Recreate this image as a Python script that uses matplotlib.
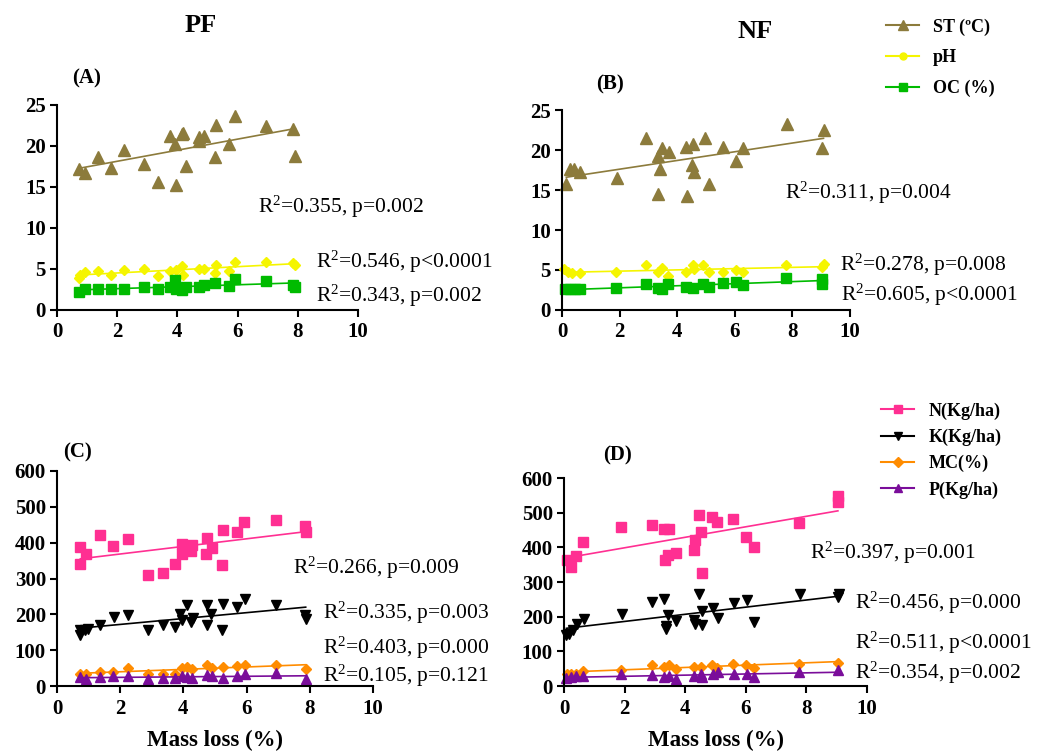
import numpy as np
import matplotlib.pyplot as plt
from matplotlib.lines import Line2D

plt.rcParams['font.family'] = ['Liberation Serif', 'DejaVu Serif']
plt.rcParams['mathtext.fontset'] = 'custom'
plt.rcParams['mathtext.rm'] = 'Liberation Serif'
plt.rcParams['mathtext.default'] = 'regular'

# ---- Panel A (PF): soil properties vs mass loss
a_st_x = [0.74, 0.94, 1.36, 1.79, 2.23, 2.90, 3.34, 3.76, 3.92, 3.94, 4.14, 4.20, 4.27,
          4.72, 4.72, 4.90, 5.27, 5.25, 5.70, 5.93, 6.93, 7.85, 7.92]
a_st_y = [17.2, 16.7, 18.6, 17.3, 19.5, 17.8, 15.6, 21.2, 20.3, 15.3, 21.5, 21.6, 17.6,
          21.1, 20.6, 21.2, 22.5, 18.7, 20.2, 23.6, 22.4, 22.1, 18.8]
a_ph_x = [0.74, 0.76, 0.94, 1.36, 1.79, 2.23, 2.90, 3.34, 3.76, 3.94, 4.14, 4.20, 4.72,
          4.90, 5.25, 5.27, 5.70, 5.93, 6.93, 7.85, 7.92]
a_ph_y = [3.9, 4.3, 4.6, 4.8, 4.3, 4.9, 5.0, 4.1, 4.7, 4.9, 5.4, 4.3, 5.0,
          5.0, 4.5, 5.5, 4.8, 5.9, 5.9, 5.7, 5.5]
a_oc_x = [0.74, 0.94, 1.36, 1.79, 2.23, 2.90, 3.34, 3.76, 3.92, 3.94, 4.14, 4.27, 4.72,
          4.90, 5.25, 5.70, 5.93, 6.93, 7.85, 7.92]
a_oc_y = [2.2, 2.6, 2.5, 2.5, 2.6, 2.8, 2.5, 2.8, 3.7, 2.6, 2.4, 2.8, 2.8,
          3.0, 3.3, 2.9, 3.8, 3.5, 3.0, 2.8]

# ---- Panel B (NF)
b_st_x = [0.15, 0.29, 0.40, 0.64, 1.91, 2.91, 3.33, 3.47, 3.41, 3.70, 3.33, 4.31, 4.34,
          4.54, 4.50, 4.57, 4.97, 5.09, 5.58, 6.05, 6.27, 7.80, 9.08, 9.04]
b_st_y = [15.7, 17.6, 17.6, 17.3, 16.5, 21.5, 19.2, 20.2, 17.6, 19.8, 14.5, 20.4, 14.2,
          20.7, 18.1, 17.3, 21.5, 15.7, 20.4, 18.6, 20.2, 23.2, 22.5, 20.3]
b_ph_x = [0.06, 0.20, 0.35, 0.61, 1.87, 2.91, 3.33, 3.47, 3.68, 4.31, 4.54, 4.57, 4.91,
          5.09, 5.58, 6.05, 6.27, 7.77, 9.08, 9.04]
b_ph_y = [5.1, 4.8, 4.6, 4.6, 4.8, 5.6, 4.7, 5.2, 4.2, 4.7, 5.6, 5.1, 5.6,
          4.7, 4.8, 5.0, 4.7, 5.6, 5.8, 5.4]
b_oc_x = [0.12, 0.29, 0.46, 0.64, 1.87, 2.91, 3.33, 3.47, 3.68, 4.31, 4.54, 4.91, 5.09,
          5.58, 6.05, 6.27, 7.77, 9.04, 9.04]
b_oc_y = [2.6, 2.6, 2.6, 2.6, 2.8, 3.25, 2.7, 2.6, 3.25, 2.9, 2.8, 3.25, 2.9,
          3.4, 3.5, 3.1, 4.0, 3.9, 3.3]

# ---- Panel C (PF): nutrients vs mass loss
c_n_x = [0.74, 0.74, 0.93, 1.35, 1.76, 2.26, 2.89, 3.34, 3.74, 3.95, 3.95, 4.10, 4.26,
         4.23, 4.74, 4.72, 4.89, 5.24, 5.21, 5.71, 5.93, 6.92, 7.84, 7.87]
c_n_y = [388, 341, 369, 422, 390, 409, 309, 316, 341, 395, 369, 379, 393,
         376, 414, 369, 385, 436, 337, 430, 458, 462, 446, 430]
c_k_x = [0.74, 0.74, 0.89, 0.97, 1.37, 1.79, 2.26, 2.89, 3.34, 3.74, 3.89, 3.95, 4.10,
         4.24, 4.29, 4.76, 4.74, 4.86, 5.26, 5.23, 5.71, 5.95, 6.93, 7.84, 7.87]
c_k_y = [155, 141, 155, 160, 169, 193, 197, 155, 169, 165, 202, 183, 225,
         179, 190, 225, 169, 202, 230, 155, 220, 242, 225, 199, 188]
c_mc_x = [0.74, 0.93, 1.35, 1.76, 2.26, 2.89, 3.34, 3.74, 3.95, 4.10, 4.26, 4.76, 4.89,
          5.26, 5.71, 5.95, 6.93, 7.87]
c_mc_y = [34, 34, 39, 39, 50, 34, 34, 34, 50, 53, 48, 58, 51,
          53, 56, 58, 58, 48]
c_p_x = [0.74, 0.93, 1.35, 1.76, 2.26, 2.89, 3.34, 3.74, 3.95, 4.10, 4.26, 4.76, 4.89,
         5.26, 5.71, 5.95, 6.93, 7.87]
c_p_y = [25, 20, 25, 27, 27, 20, 22, 22, 27, 25, 23, 30, 27,
         23, 27, 34, 36, 20]

# ---- Panel D (NF)
d_n_x = [0.10, 0.24, 0.41, 0.63, 1.87, 2.89, 3.31, 3.47, 3.33, 3.42, 3.69, 4.29, 4.32,
         4.46, 4.52, 4.57, 4.90, 5.06, 5.59, 6.01, 6.27, 7.77, 9.04, 9.04]
d_n_y = [364, 343, 374, 415, 460, 463, 452, 452, 364, 377, 385, 391, 420,
         492, 444, 327, 487, 473, 481, 430, 401, 471, 547, 531]
d_k_x = [0.08, 0.16, 0.30, 0.43, 0.65, 1.90, 2.90, 3.31, 3.36, 3.44, 3.36, 3.68, 4.29,
         4.32, 4.46, 4.54, 4.57, 4.93, 5.09, 5.61, 6.03, 6.28, 7.79, 9.06, 9.03]
d_k_y = [146, 151, 161, 178, 194, 209, 242, 250, 172, 206, 165, 187, 191,
         180, 266, 215, 175, 226, 197, 239, 247, 185, 264, 264, 257]
d_mc_x = [0.10, 0.24, 0.41, 0.63, 1.87, 2.89, 3.31, 3.47, 3.68, 4.29, 4.52, 4.90, 5.06,
          5.59, 6.01, 6.27, 7.77, 9.04]
d_mc_y = [36, 36, 36, 43, 47, 60, 55, 60, 50, 55, 55, 60, 53,
          64, 62, 53, 64, 67]
d_p_x = [0.08, 0.24, 0.41, 0.63, 1.87, 2.89, 3.31, 3.47, 3.68, 4.29, 4.52, 4.57, 4.93,
         5.09, 5.61, 6.03, 6.28, 7.77, 9.04]
d_p_y = [24, 26, 28, 28, 34, 31, 26, 28, 21, 28, 36, 26, 36,
         40, 36, 34, 26, 40, 45]

# series labels and stats text
top_labels = ['ST (\u00baC)', 'pH', 'OC (%)']
bottom_labels = ['N(Kg/ha)', 'K(Kg/ha)', 'MC(%)', 'P(Kg/ha)']
a_stats = ['R$^2$=0.355, p=0.002', 'R$^2$=0.546, p<0.0001', 'R$^2$=0.343, p=0.002']
b_stats = ['R$^2$=0.311, p=0.004', 'R$^2$=0.278, p=0.008', 'R$^2$=0.605, p<0.0001']
c_stats = ['R$^2$=0.266, p=0.009', 'R$^2$=0.335, p=0.003', 'R$^2$=0.403, p=0.000', 'R$^2$=0.105, p=0.121']
d_stats = ['R$^2$=0.397, p=0.001', 'R$^2$=0.456, p=0.000', 'R$^2$=0.511, p<0.0001', 'R$^2$=0.354, p=0.002']

# colours
st_col, ph_col, oc_col = '#8c7b3c', '#f5f500', '#00bb00'
n_col, k_col, mc_col, p_col = '#ff2f92', '#000000', '#ff8c00', '#7a0d9a'

W, H = 1051, 751
fig = plt.figure(figsize=(W / 100, H / 100), dpi=100)


def add_ax(l, t, r, b):
    # axes from a pixel box
    return fig.add_axes([l / W, 1 - b / H, (r - l) / W, (b - t) / H])


def scatter_fit(ax, x, y, col, marker, ms):
    x = np.array(x)
    y = np.array(y)
    ax.plot(x, y, linestyle='none', marker=marker, color=col, markersize=ms, clip_on=False)
    # linear regression line over the data range
    k, c = np.polyfit(x, y, 1)
    xs = np.array([x.min(), x.max()])
    ax.plot(xs, k * xs + c, color=col, linewidth=1.2)


def style(ax, ymax, ystep):
    ax.set_xlim(0, 10)
    ax.set_ylim(0, ymax)
    ax.set_xticks(np.arange(0, 11, 2))
    ax.set_yticks(np.arange(0, ymax + 1, ystep))
    for s in ['top', 'right']:
        ax.spines[s].set_visible(False)
    for s in ['left', 'bottom']:
        ax.spines[s].set_linewidth(1.5)
    ax.tick_params(direction='out', length=5, width=1.5, labelsize=15)
    ax.tick_params(axis='x', pad=4)
    ax.tick_params(axis='y', pad=3)
    for lab in ax.get_xticklabels() + ax.get_yticklabels():
        lab.set_fontweight('bold')


def txt(x, y, s, **kw):
    fig.text(x / W, 1 - y / H, s, **kw)


# panel A
axA = add_ax(57, 105, 358, 310)
scatter_fit(axA, a_st_x, a_st_y, st_col, '^', 8)
scatter_fit(axA, a_ph_x, a_ph_y, ph_col, 'D', 5)
scatter_fit(axA, a_oc_x, a_oc_y, oc_col, 's', 7)
style(axA, 25, 5)

# panel B
axB = add_ax(562, 110, 850, 310)
scatter_fit(axB, b_st_x, b_st_y, st_col, '^', 8)
scatter_fit(axB, b_ph_x, b_ph_y, ph_col, 'D', 5)
scatter_fit(axB, b_oc_x, b_oc_y, oc_col, 's', 7)
style(axB, 25, 5)

# panel C
axC = add_ax(57, 471, 373, 686)
scatter_fit(axC, c_n_x, c_n_y, n_col, 's', 7)
scatter_fit(axC, c_k_x, c_k_y, k_col, 'v', 7)
scatter_fit(axC, c_mc_x, c_mc_y, mc_col, 'D', 5)
scatter_fit(axC, c_p_x, c_p_y, p_col, '^', 7)
style(axC, 600, 100)

# panel D
axD = add_ax(564, 478, 867, 686)
scatter_fit(axD, d_n_x, d_n_y, n_col, 's', 7)
scatter_fit(axD, d_k_x, d_k_y, k_col, 'v', 7)
scatter_fit(axD, d_mc_x, d_mc_y, mc_col, 'D', 5)
scatter_fit(axD, d_p_x, d_p_y, p_col, '^', 7)
style(axD, 600, 100)

for ax in (axC, axD):
    ax.set_xlabel('Mass loss (%)', fontsize=16.5, fontweight='bold', labelpad=8)

# titles and panel letters
txt(201, 25, 'PF', fontsize=19, fontweight='bold', ha='center', va='center')
txt(755, 32, 'NF', fontsize=19, fontweight='bold', ha='center', va='center')
txt(87, 78, '(A)', fontsize=15, fontweight='bold', ha='center', va='center')
txt(610, 84, '(B)', fontsize=15, fontweight='bold', ha='center', va='center')
txt(78, 452, '(C)', fontsize=15, fontweight='bold', ha='center', va='center')
txt(618, 455, '(D)', fontsize=15, fontweight='bold', ha='center', va='center')

# regression stats
for (x, y), s in zip([(258, 207), (316, 262), (316, 296)], a_stats):
    txt(x, y, s, fontsize=15.5, va='center')
for (x, y), s in zip([(785, 193), (840, 265), (841, 295)], b_stats):
    txt(x, y, s, fontsize=15.5, va='center')
for (x, y), s in zip([(293, 568), (323, 613), (323, 648), (323, 676)], c_stats):
    txt(x, y, s, fontsize=15.5, va='center')
for (x, y), s in zip([(810, 553), (855, 603), (855, 643), (855, 673)], d_stats):
    txt(x, y, s, fontsize=15.5, va='center')

# legends
top_handles = [Line2D([], [], color=st_col, marker='^', markersize=7),
               Line2D([], [], color=ph_col, marker='o', markersize=5),
               Line2D([], [], color=oc_col, marker='s', markersize=6)]
fig.legend(top_handles, top_labels, loc='upper left', bbox_to_anchor=(870 / W, 1 - 2 / H),
           frameon=False, handlelength=1.8, labelspacing=0.75,
           prop={'weight': 'bold', 'size': 13})
bottom_handles = [Line2D([], [], color=n_col, marker='s', markersize=6),
                  Line2D([], [], color=k_col, marker='v', markersize=6),
                  Line2D([], [], color=mc_col, marker='D', markersize=5),
                  Line2D([], [], color=p_col, marker='^', markersize=6)]
fig.legend(bottom_handles, bottom_labels, loc='upper left', bbox_to_anchor=(865 / W, 1 - 386 / H),
           frameon=False, handlelength=1.8, labelspacing=0.5,
           prop={'weight': 'bold', 'size': 13})

plt.savefig('out.png', dpi=100)
